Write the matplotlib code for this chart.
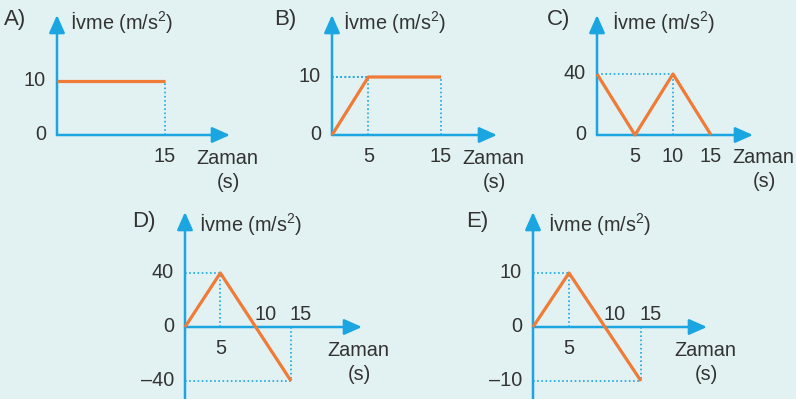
import matplotlib
matplotlib.use('Agg')
import matplotlib.pyplot as plt

plt.rcParams['font.family'] = ['Liberation Sans', 'DejaVu Sans']
plt.rcParams['mathtext.fontset'] = 'custom'
plt.rcParams['mathtext.rm'] = 'Liberation Sans'
plt.rcParams['mathtext.default'] = 'regular'

## data for the five options
labels = ["A)", "B)", "C)", "D)", "E)"]
times = [[0, 15], [0, 5, 15], [0, 5, 10, 15], [0, 5, 15], [0, 5, 15]]
accels = [[10, 10], [0, 10, 10], [40, 0, 40, 0], [0, 40, -40], [0, 10, -10]]
yticks = [[0, 10], [0, 10], [0, 40], [-40, 0, 40], [-10, 0, 10]]
xticks_below = [[15], [5, 15], [5, 10, 15], [5], [5]]
xticks_above = [[], [], [], [10, 15], [10, 15]]
ylabel = "İvme (m/s$^2$)"
xlabel = "Zaman"
xunit = "(s)"

BLUE = '#1ba6e1'
ORANGE = '#ef7b37'
TXT = '#333333'
BG = '#e2f2f3'
W, H = 796, 399

# pixel layout: origin, px per unit x/y, arrow tips, label offsets
layout = [
    dict(o=(57, 135), sx=7.2, sy=5.4, xtip=230, ytip=15, ybot=135, let=4, yl=70, zx=196, zy=158, ly=20),
    dict(o=(332, 135), sx=7.27, sy=5.8, xtip=497, ytip=15, ybot=135, let=274, yl=343, zx=462, zy=158, ly=20),
    dict(o=(597, 135), sx=7.6, sy=1.525, xtip=753, ytip=15, ybot=135, let=547, yl=612, zx=732, zy=158, ly=20),
    dict(o=(185, 327), sx=7.07, sy=1.35, xtip=362, ytip=212, ybot=420, let=132, yl=199, zx=327, zy=350, ly=222),
    dict(o=(533, 327), sx=7.2, sy=5.4, xtip=707, ytip=212, ybot=420, let=466, yl=548, zx=674, zy=350, ly=222),
]

fig = plt.figure(figsize=(W / 100, H / 100), dpi=100)
fig.patch.set_facecolor(BG)

fs = 14.3
for i in range(5):
    L = layout[i]
    ox, oy = L['o']
    sx, sy = L['sx'], L['sy']
    ax = fig.add_axes([0, 0, 1, 1])
    ax.set_xlim(-ox / sx, (W - ox) / sx)
    ax.set_ylim((oy - H) / sy, oy / sy)
    ax.axis('off')
    ax.patch.set_alpha(0)

    px = lambda x: (x - ox) / sx
    py = lambda y: (oy - y) / sy

    # axes arrows
    ap = dict(arrowstyle='-|>,head_length=0.9,head_width=0.4', lw=1.8, color=BLUE,
              mutation_scale=12, shrinkA=0, shrinkB=0)
    ax.annotate('', xy=(px(L['xtip']), 0), xytext=(0, 0), arrowprops=ap, zorder=3)
    ax.annotate('', xy=(0, py(L['ytip'])), xytext=(0, py(L['ybot'])), arrowprops=ap, zorder=3)

    # dotted guides
    t, a = times[i], accels[i]
    for tt, aa in zip(t, a):
        if tt > 0 and aa != 0:
            ax.plot([tt, tt], [0, aa], color=BLUE, lw=1.2, ls=(0, (1, 1.5)), zorder=1)
            ax.plot([0, tt], [aa, aa], color=BLUE, lw=1.2, ls=(0, (1, 1.5)), zorder=1)

    ax.plot(t, a, color=ORANGE, lw=2.3, solid_capstyle='butt', zorder=4)

    # tick labels
    for v in yticks[i]:
        s = str(v).replace('-', '\u2013')
        ax.annotate(s, (0, v), xytext=(-11, 0), textcoords='offset pixels',
                    ha='right', va='center', fontsize=fs, color=TXT)
    for v in xticks_below[i]:
        ax.annotate(str(v), (v, 0), xytext=(0, -22), textcoords='offset pixels',
                    ha='center', va='center', fontsize=fs, color=TXT)
    for v in xticks_above[i]:
        ax.annotate(str(v), (v, 0), xytext=(10, 12), textcoords='offset pixels',
                    ha='center', va='center', fontsize=fs, color=TXT)

    # titles
    ax.text(px(L['let']), py(L['ly']), labels[i], ha='left', va='center', fontsize=16, color=TXT)
    ax.text(px(L['yl']), py(L['ly'] + 2), ylabel, ha='left', va='center', fontsize=fs, color=TXT)
    ax.text(px(L['zx']), py(L['zy']), xlabel, ha='left', va='center', fontsize=fs, color=TXT)
    ax.text(px(L['zx'] + 32), py(L['zy'] + 24), xunit, ha='center', va='center', fontsize=fs, color=TXT)

plt.savefig('out.png', dpi=100, facecolor=BG)
